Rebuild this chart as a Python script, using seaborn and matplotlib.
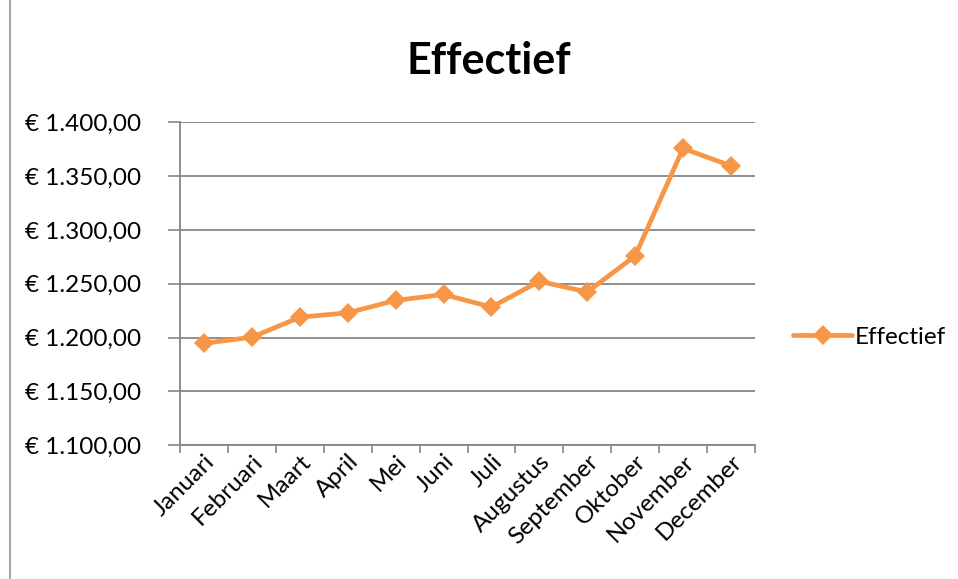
import numpy as np
import pandas as pd
import matplotlib
matplotlib.use("Agg")
import matplotlib.pyplot as plt
import seaborn as sns
from matplotlib.ticker import FuncFormatter, FixedLocator

months = ['Januari', 'Februari', 'Maart', 'April', 'Mei', 'Juni', 'Juli',
          'Augustus', 'September', 'Oktober', 'November', 'December']
effectief = [1194.7, 1200.3, 1218.9, 1223.0, 1234.5, 1240.0, 1228.3,
             1252.2, 1242.3, 1275.8, 1375.6, 1359.5]
y_ticks = [1100, 1150, 1200, 1250, 1300, 1350, 1400]

df = pd.DataFrame({'Maand': months, 'Effectief': effectief})

sns.set_style('white')
plt.rcParams['font.family'] = ['Lato', 'DejaVu Sans']
plt.rcParams['text.color'] = 'black'
plt.rcParams['xtick.color'] = 'black'
plt.rcParams['ytick.color'] = 'black'

orange = '#F79646'
grey = '#868686'

fig = plt.figure(figsize=(9.58, 5.79), dpi=100)
ax = fig.add_axes([0.188, 0.231, 0.6, 0.558])

sns.lineplot(data=df, x='Maand', y='Effectief', ax=ax, color=orange,
             linewidth=3.4, marker='D', markersize=10, markeredgewidth=0,
             label='Effectief', sort=False)

ax.set_xlim(-0.5, len(months) - 0.5)
ax.set_ylim(1100, 1400)
ax.set_yticks(y_ticks)
ax.yaxis.set_major_formatter(FuncFormatter(
    lambda v, p: '€ ' + f'{v:,.2f}'.replace(',', 'X').replace('.', ',').replace('X', '.')))
ax.grid(axis='y', color=grey, linewidth=1.3)
ax.set_axisbelow(True)

ax.set_xticks(range(len(months)))
ax.set_xticklabels(months, rotation=45, ha='right', rotation_mode='anchor')
ax.xaxis.set_minor_locator(FixedLocator(np.arange(-0.5, len(months), 1.0)))
ax.tick_params(axis='x', which='major', length=0, pad=4, labelsize=17.5)
ax.tick_params(axis='x', which='minor', bottom=True, length=6, width=1.2,
               color=grey, direction='out')
ax.tick_params(axis='y', left=True, length=9, width=1.2, color=grey,
               labelcolor='black', direction='out', pad=19, labelsize=17.5)

for s in ['top', 'right']:
    ax.spines[s].set_visible(False)
for s in ['left', 'bottom']:
    ax.spines[s].set_color(grey)
    ax.spines[s].set_linewidth(1.3)

ax.set_xlabel('')
ax.set_ylabel('')

ax.legend(loc='center left', bbox_to_anchor=(1.05, 0.335), frameon=False,
          fontsize=17.5, handlelength=2.4, handletextpad=0.12, borderaxespad=0)

fig.text(0.51, 0.895, 'Effectief', ha='center', va='center',
         fontsize=31, fontweight='bold')

fig.add_artist(plt.Line2D([0.0105, 0.0105], [0, 1], color='#a6a6a6', linewidth=1.5,
                          transform=fig.transFigure))

fig.savefig('out.png', dpi=100)
